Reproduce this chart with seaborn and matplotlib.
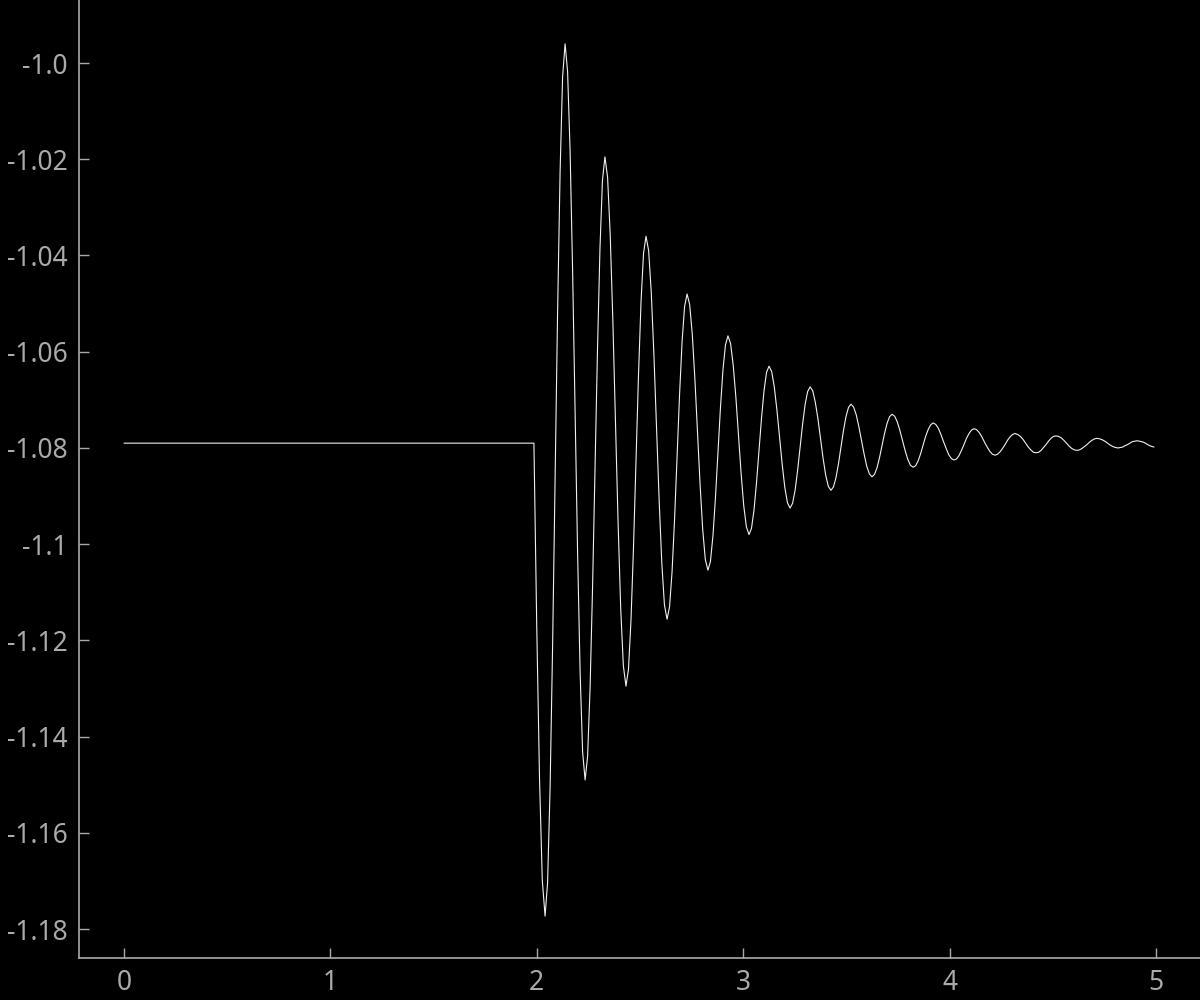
import matplotlib as mpl
mpl.use('Agg')
import matplotlib.pyplot as plt
from matplotlib.ticker import FixedLocator, FixedFormatter
import seaborn as sns

# values: flat part, step down, then damped ringing
# (one row per half swing, ending on the peak / trough)
t = [0.0, 1.986,
     1.9995, 2.013, 2.0265, 2.040,
     2.0521, 2.0643, 2.0764, 2.0885, 2.1006, 2.1128, 2.1249, 2.137,
     2.1491, 2.1613, 2.1734, 2.1855, 2.1976, 2.2098, 2.2219, 2.234,
     2.246, 2.258, 2.270, 2.282, 2.294, 2.306, 2.318, 2.330,
     2.3428, 2.3555, 2.3683, 2.381, 2.3938, 2.4065, 2.4193, 2.432,
     2.4441, 2.4563, 2.4684, 2.4805, 2.4926, 2.5048, 2.5169, 2.529,
     2.5418, 2.5545, 2.5673, 2.580, 2.5928, 2.6055, 2.6183, 2.631,
     2.6431, 2.6553, 2.6674, 2.6795, 2.6916, 2.7038, 2.7159, 2.728,
     2.7406, 2.7533, 2.7659, 2.7785, 2.7911, 2.8038, 2.8164, 2.829,
     2.8411, 2.8533, 2.8654, 2.8775, 2.8896, 2.9018, 2.9139, 2.926,
     2.9388, 2.9515, 2.9643, 2.977, 2.9898, 3.0025, 3.0153, 3.028,
     3.0401, 3.0523, 3.0644, 3.0765, 3.0886, 3.1008, 3.1129, 3.125,
     3.1378, 3.1505, 3.1633, 3.176, 3.1888, 3.2015, 3.2143, 3.227,
     3.2391, 3.2513, 3.2634, 3.2755, 3.2876, 3.2998, 3.3119, 3.324,
     3.3366, 3.3493, 3.3619, 3.3745, 3.3871, 3.3998, 3.4124, 3.425,
     3.4371, 3.4493, 3.4614, 3.4735, 3.4856, 3.4978, 3.5099, 3.522,
     3.5348, 3.5475, 3.5603, 3.573, 3.5858, 3.5985, 3.6113, 3.624,
     3.6361, 3.6483, 3.6604, 3.6725, 3.6846, 3.6968, 3.7089, 3.721,
     3.7338, 3.7465, 3.7593, 3.772, 3.7848, 3.7975, 3.8103, 3.823,
     3.8351, 3.8473, 3.8594, 3.8715, 3.8836, 3.8958, 3.9079, 3.920,
     3.9326, 3.9453, 3.9579, 3.9705, 3.9831, 3.9958, 4.0084, 4.021,
     4.0331, 4.0453, 4.0574, 4.0695, 4.0816, 4.0938, 4.1059, 4.118,
     4.1308, 4.1435, 4.1563, 4.169, 4.1818, 4.1945, 4.2073, 4.220,
     4.2321, 4.2443, 4.2564, 4.2685, 4.2806, 4.2928, 4.3049, 4.317,
     4.3298, 4.3425, 4.3553, 4.368, 4.3808, 4.3935, 4.4063, 4.419,
     4.431, 4.443, 4.455, 4.467, 4.479, 4.491, 4.503, 4.515,
     4.5278, 4.5405, 4.5533, 4.566, 4.5788, 4.5915, 4.6043, 4.617,
     4.6291, 4.6413, 4.6534, 4.6655, 4.6776, 4.6898, 4.7019, 4.714,
     4.7268, 4.7395, 4.7523, 4.765, 4.7778, 4.7905, 4.8033, 4.816,
     4.8275, 4.839, 4.8505, 4.862, 4.8735, 4.885, 4.8965, 4.908,
     4.920, 4.932, 4.944, 4.956, 4.968, 4.980, 4.990]

value = [-1.079, -1.079,
         -1.1166, -1.1485, -1.1698, -1.1773,
         -1.1704, -1.1507, -1.1214, -1.0867, -1.0519, -1.0226, -1.0029, -0.996,
         -1.0018, -1.0184, -1.0432, -1.0725, -1.1018, -1.1266, -1.1432, -1.149,
         -1.1441, -1.1300, -1.1091, -1.0843, -1.0595, -1.0385, -1.0244, -1.0195,
         -1.0237, -1.0356, -1.0534, -1.0745, -1.0956, -1.1134, -1.1253, -1.1295,
         -1.1260, -1.1158, -1.1007, -1.0828, -1.0649, -1.0497, -1.0396, -1.036,
         -1.0390, -1.0477, -1.0606, -1.0758, -1.0910, -1.1039, -1.1126, -1.1156,
         -1.1130, -1.1057, -1.0948, -1.0818, -1.0689, -1.0579, -1.0506, -1.048,
         -1.0502, -1.0564, -1.0657, -1.0767, -1.0877, -1.0970, -1.1032, -1.1054,
         -1.1036, -1.0983, -1.0904, -1.0811, -1.0717, -1.0638, -1.0586, -1.0567,
         -1.0583, -1.0628, -1.0694, -1.0774, -1.0853, -1.0920, -1.0964, -1.098,
         -1.0967, -1.0929, -1.0872, -1.0805, -1.0738, -1.0681, -1.0643, -1.063,
         -1.0641, -1.0673, -1.0721, -1.0778, -1.0834, -1.0882, -1.0914, -1.0925,
         -1.0915, -1.0888, -1.0847, -1.0799, -1.0751, -1.0710, -1.0683, -1.0673,
         -1.0681, -1.0705, -1.0739, -1.0781, -1.0822, -1.0857, -1.0880, -1.0888,
         -1.0881, -1.0862, -1.0833, -1.0799, -1.0764, -1.0735, -1.0716, -1.0709,
         -1.0715, -1.0731, -1.0756, -1.0785, -1.0813, -1.0838, -1.0854, -1.086,
         -1.0855, -1.0841, -1.0820, -1.0795, -1.0770, -1.0749, -1.0735, -1.073,
         -1.0734, -1.0746, -1.0764, -1.0785, -1.0806, -1.0824, -1.0836, -1.084,
         -1.0837, -1.0827, -1.0812, -1.0794, -1.0776, -1.0762, -1.0752, -1.0748,
         -1.0751, -1.0759, -1.0772, -1.0787, -1.0801, -1.0814, -1.0822, -1.0825,
         -1.0823, -1.0816, -1.0805, -1.0793, -1.0780, -1.0770, -1.0763, -1.076,
         -1.0762, -1.0768, -1.0777, -1.0788, -1.0798, -1.0807, -1.0813, -1.0815,
         -1.0813, -1.0808, -1.0801, -1.0793, -1.0784, -1.0777, -1.0772, -1.077,
         -1.0772, -1.0776, -1.0782, -1.0790, -1.0798, -1.0804, -1.0809, -1.081,
         -1.0809, -1.0805, -1.0799, -1.0793, -1.0786, -1.0780, -1.0776, -1.0775,
         -1.0776, -1.0779, -1.0784, -1.0790, -1.0796, -1.0801, -1.0804, -1.0805,
         -1.0804, -1.0801, -1.0797, -1.0793, -1.0788, -1.0784, -1.0781, -1.078,
         -1.0781, -1.0783, -1.0786, -1.0790, -1.0794, -1.0797, -1.0799, -1.080,
         -1.0799, -1.0798, -1.0795, -1.0793, -1.0790, -1.0787, -1.0786, -1.0785,
         -1.0786, -1.0787, -1.0789, -1.0792, -1.0795, -1.0797, -1.0798]

x_ticks = [0, 1, 2, 3, 4, 5]
x_labels = ["0", "1", "2", "3", "4", "5"]
y_ticks = [-1.0, -1.02, -1.04, -1.06, -1.08, -1.1, -1.12, -1.14, -1.16, -1.18]
y_labels = ["-1.0", "-1.02", "-1.04", "-1.06", "-1.08", "-1.1", "-1.12", "-1.14", "-1.16", "-1.18"]

sns.set_style("dark")
plt.rcParams['font.family'] = ['Noto Sans', 'DejaVu Sans']

fig = plt.figure(figsize=(12, 10), dpi=100, facecolor='black')
ax = fig.add_axes([79 / 1200, 42 / 1000, 1121 / 1200, 958 / 1000])
ax.set_facecolor('black')

sns.lineplot(x=t, y=value, ax=ax, color='#f0f0f0', linewidth=0.8)

ax.set_xlim(-0.218, 5.213)
ax.set_ylim(-1.186, -0.9869)

grey = '#aaaaaa'
for side in ['top', 'right']:
    ax.spines[side].set_visible(False)
for side in ['left', 'bottom']:
    ax.spines[side].set_color(grey)
    ax.spines[side].set_linewidth(1.2)
ax.grid(False)

ax.xaxis.set_major_locator(FixedLocator(x_ticks))
ax.xaxis.set_major_formatter(FixedFormatter(x_labels))
ax.yaxis.set_major_locator(FixedLocator(y_ticks))
ax.yaxis.set_major_formatter(FixedFormatter(y_labels))
ax.tick_params(axis='both', direction='in', length=7.5, width=1, color=grey,
               labelcolor=grey, labelsize=19, pad=8)
ax.tick_params(axis='both', bottom=True, left=True)

plt.savefig("out.png", dpi=100, facecolor='black')
